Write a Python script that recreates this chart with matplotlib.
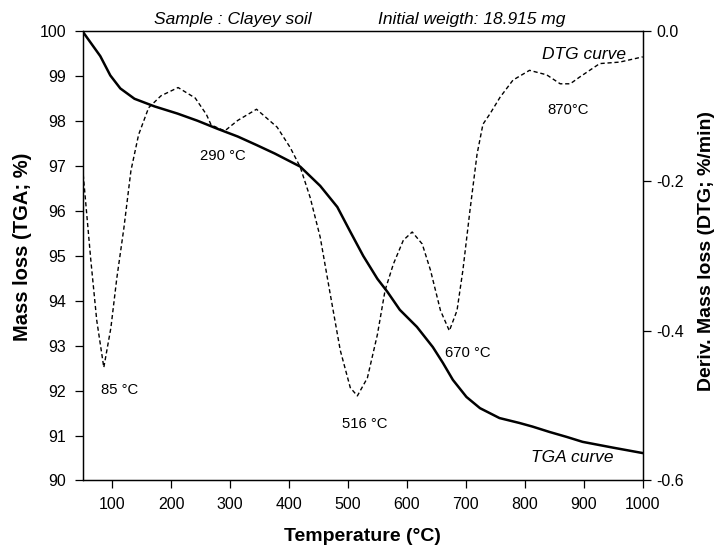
import matplotlib
matplotlib.use("Agg")
import matplotlib.pyplot as plt

plt.rcParams['font.family'] = ['Liberation Sans', 'DejaVu Sans']

# TGA curve (mass %, left axis)
tga_temp = [50, 80, 97, 114, 138, 172, 211, 245, 279, 313, 345, 376, 419, 453,
            482, 504, 526, 550, 567, 588, 617, 644, 661, 678, 701, 724, 757,
            791, 813, 842, 871, 898, 950, 1000]
tga_mass = [100.0, 99.45, 99.02, 98.73, 98.50, 98.33, 98.17, 98.01, 97.83, 97.66,
            97.47, 97.28, 96.99, 96.56, 96.09, 95.54, 95.00, 94.49, 94.20, 93.80,
            93.42, 92.97, 92.62, 92.24, 91.86, 91.61, 91.39, 91.28, 91.20, 91.08,
            90.97, 90.86, 90.73, 90.61]

# DTG curve (%/min, right axis)
dtg_temp = [50, 55, 64, 74, 86, 98, 108, 120, 132, 145, 162, 183, 212, 241, 260,
            268, 291, 313, 345, 380, 402, 419, 436, 453, 470, 487, 504, 516, 533,
            550, 563, 577, 594, 609, 626, 640, 657, 672, 685, 695, 707, 719, 729,
            741, 758, 780, 808, 837, 860, 877, 893, 927, 961, 1000]
dtg_rate = [-0.182, -0.226, -0.306, -0.386, -0.449, -0.396, -0.330, -0.263, -0.186,
            -0.138, -0.102, -0.086, -0.075, -0.089, -0.111, -0.125, -0.133, -0.119,
            -0.104, -0.128, -0.155, -0.181, -0.222, -0.275, -0.351, -0.426, -0.476,
            -0.487, -0.463, -0.405, -0.346, -0.311, -0.279, -0.268, -0.284, -0.319,
            -0.373, -0.400, -0.373, -0.319, -0.239, -0.164, -0.124, -0.110, -0.088,
            -0.065, -0.052, -0.058, -0.070, -0.070, -0.061, -0.043, -0.041, -0.034]

# peak labels: (text, temperature, mass-axis position)
peak_labels = [("85 °C", 113, 92.02), ("290 °C", 288, 97.23), ("516 °C", 528, 91.26),
               ("670 °C", 704, 92.84), ("870°C", 874, 98.24)]

x_ticks = [100, 200, 300, 400, 500, 600, 700, 800, 900, 1000]
left_ticks = [90, 91, 92, 93, 94, 95, 96, 97, 98, 99, 100]
right_ticks = [-0.6, -0.4, -0.2, 0.0]

fig = plt.figure(figsize=(7.2, 5.51), dpi=100)
ax = fig.add_axes([0.1147, 0.128, 0.778, 0.815])
ax2 = ax.twinx()

ax.plot(tga_temp, tga_mass, color='black', lw=1.8, solid_capstyle='round', zorder=3)
ax2.plot(dtg_temp, dtg_rate, color='black', lw=1.0, linestyle=(0, (3, 2)))

ax.set_xlim(50, 1000)
ax.set_ylim(90, 100)
ax2.set_ylim(-0.6, 0.0)
ax.set_xticks(x_ticks)
ax.set_yticks(left_ticks)
ax2.set_yticks(right_ticks)
ax2.set_yticklabels([f"{v:.1f}" for v in right_ticks])

for a in (ax, ax2):
    for s in a.spines.values():
        s.set_linewidth(0.9)
ax.tick_params(axis='both', direction='out', length=6, width=0.9, labelsize=11.5)
ax.tick_params(axis='x', pad=6)
ax.tick_params(axis='y', pad=6)
ax2.tick_params(axis='y', direction='out', length=6, width=0.9, labelsize=11.5, pad=4)

ax.set_xlabel('Temperature (°C)', fontsize=14, fontweight='bold')
ax.set_ylabel('Mass loss (TGA; %)', fontsize=14.5, fontweight='bold')
ax2.set_ylabel('Deriv. Mass loss (DTG; %/min)', fontsize=14, fontweight='bold')
ax.xaxis.set_label_coords(0.5, -0.105)
ax.yaxis.set_label_coords(-0.09, 0.52)
ax2.yaxis.set_label_coords(1.099, 0.51)

for txt, t, m in peak_labels:
    ax.text(t, m, txt, fontsize=10.7, ha='center', va='center')

ax.text(900, 99.48, 'DTG curve', fontsize=12.5, style='italic', ha='center', va='center')
ax.text(880, 90.52, 'TGA curve', fontsize=12.5, style='italic', ha='center', va='center')

ax.text(0.268, 1.01, 'Sample : Clayey soil', transform=ax.transAxes, fontsize=12.5,
        style='italic', ha='center', va='bottom')
ax.text(0.694, 1.01, 'Initial weigth: 18.915 mg', transform=ax.transAxes, fontsize=12.5,
        style='italic', ha='center', va='bottom')

fig.savefig('out.png', dpi=100)
